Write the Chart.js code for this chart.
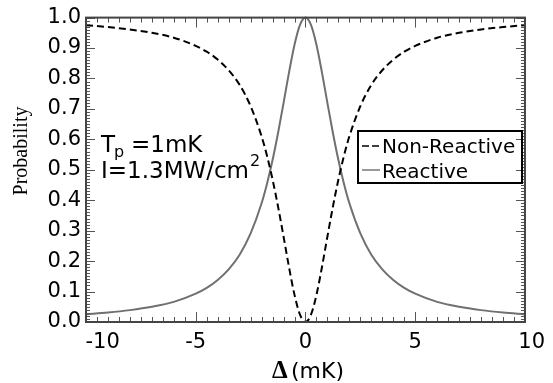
<!DOCTYPE html>
<html>
<head>
<meta charset="utf-8">
<script src="https://cdn.jsdelivr.net/npm/chart.js@4.4.1/dist/chart.umd.min.js"></script>
<style>
  body { margin: 0; background: #fff; }
</style>
</head>
<body>
<canvas id="probChart" width="553" height="383"></canvas>
<script>
// detuning (mK) and the two outcome probabilities
const delta = [-10, -9, -8, -7, -6, -5, -4.5, -4, -3.5, -3, -2.5, -2, -1.75, -1.5, -1.25, -1, -0.75, -0.5, -0.25, 0,
  0.25, 0.5, 0.75, 1, 1.25, 1.5, 1.75, 2, 2.5, 3, 3.5, 4, 4.5, 5, 6, 7, 8, 9, 10];
const reactive = [0.025, 0.031, 0.039, 0.050, 0.066, 0.093, 0.112, 0.138, 0.173, 0.221, 0.291, 0.390, 0.455, 0.532, 0.621, 0.719, 0.820, 0.911, 0.976, 1.000,
  0.976, 0.911, 0.820, 0.719, 0.621, 0.532, 0.455, 0.390, 0.291, 0.221, 0.173, 0.138, 0.112, 0.093, 0.066, 0.050, 0.039, 0.031, 0.025];
const nonReactive = [0.975, 0.969, 0.961, 0.950, 0.934, 0.907, 0.888, 0.862, 0.827, 0.779, 0.709, 0.610, 0.545, 0.468, 0.379, 0.281, 0.180, 0.089, 0.024, 0.000,
  0.024, 0.089, 0.180, 0.281, 0.379, 0.468, 0.545, 0.610, 0.709, 0.779, 0.827, 0.862, 0.888, 0.907, 0.934, 0.950, 0.961, 0.969, 0.975];
const xTicks = [-10, -5, 0, 5, 10];
const seriesNames = ['Non-Reactive', 'Reactive'];

const toPoints = ys => ys.map((y, i) => ({ x: delta[i], y }));

// boxed frame with inward ticks on all four sides
const frameTicks = {
  id: 'frameTicks',
  afterDatasetsDraw(chart) {
    const { ctx, chartArea: a, scales: { x, y } } = chart;
    ctx.save();
    ctx.strokeStyle = '#555';
    ctx.lineWidth = 1;
    ctx.beginPath();
    for (let i = 0; i <= 40; i++) {
      const px = Math.round(x.getPixelForValue(-10 + i * 0.5)) + 0.5;
      const len = i % 10 === 0 ? 10 : 5;
      ctx.moveTo(px, a.bottom); ctx.lineTo(px, a.bottom - len);
      ctx.moveTo(px, a.top); ctx.lineTo(px, a.top + len);
    }
    for (let i = 0; i <= 100; i++) {
      const py = Math.round(y.getPixelForValue(i / 100)) + 0.5;
      const len = i % 10 === 0 ? 9 : 4;
      ctx.moveTo(a.left, py); ctx.lineTo(a.left + len, py);
      ctx.moveTo(a.right, py); ctx.lineTo(a.right - len, py);
    }
    ctx.stroke();
    ctx.strokeStyle = '#444';
    ctx.lineWidth = 2;
    ctx.strokeRect(a.left, a.top, a.right - a.left, a.bottom - a.top);
    ctx.restore();
  },
  afterDraw(chart) {
    const { ctx } = chart;
    ctx.save();
    ctx.fillStyle = '#000';
    ctx.textBaseline = 'alphabetic';

    // y title
    ctx.save();
    ctx.translate(27, 151);
    ctx.rotate(-Math.PI / 2);
    ctx.font = '20px "Liberation Serif"';
    ctx.textAlign = 'center';
    ctx.fillText('Probability', 0, 0);
    ctx.restore();

    // x title
    ctx.textAlign = 'left';
    ctx.font = 'bold 25px "Liberation Serif"';
    ctx.fillText('Δ', 272, 378);
    ctx.font = '22px "DejaVu Sans"';
    ctx.fillText('(mK)', 291, 378);

    // conditions
    ctx.font = '23px "DejaVu Sans"';
    ctx.fillText('T', 101, 152);
    ctx.font = '16px "DejaVu Sans"';
    ctx.fillText('p', 114, 157);
    ctx.font = '23px "DejaVu Sans"';
    ctx.fillText('=1mK', 131, 152);
    ctx.fillText('I=1.3MW/cm', 101, 178);
    const w = ctx.measureText('I=1.3MW/cm').width;
    ctx.font = '16px "DejaVu Sans"';
    ctx.fillText('2', 101 + w + 1, 166);

    // legend box
    ctx.lineWidth = 2;
    ctx.strokeStyle = '#000';
    ctx.strokeRect(358, 131, 164, 52);
    ctx.lineWidth = 1.5;
    ctx.setLineDash([7, 3]);
    ctx.beginPath(); ctx.moveTo(362, 146); ctx.lineTo(380, 146); ctx.stroke();
    ctx.setLineDash([]);
    ctx.strokeStyle = '#777';
    ctx.beginPath(); ctx.moveTo(362, 170); ctx.lineTo(380, 170); ctx.stroke();
    ctx.font = '20px "DejaVu Sans"';
    ctx.fillText(seriesNames[0], 382, 153);
    ctx.fillText(seriesNames[1], 382, 178);
    ctx.restore();
  }
};

new Chart(document.getElementById('probChart'), {
  type: 'line',
  data: {
    datasets: [
      {
        label: seriesNames[0],
        data: toPoints(nonReactive),
        borderColor: '#000',
        borderDash: [7, 4],
        borderWidth: 2,
        pointRadius: 0,
        cubicInterpolationMode: 'monotone',
        clip: 4
      },
      {
        label: seriesNames[1],
        data: toPoints(reactive),
        borderColor: '#707070',
        borderWidth: 2,
        pointRadius: 0,
        cubicInterpolationMode: 'monotone',
        clip: 4
      }
    ]
  },
  options: {
    responsive: false,
    animation: false,
    layout: { padding: { left: 0, top: 12, right: 21, bottom: 0 } },
    plugins: { legend: { display: false }, tooltip: { enabled: false } },
    scales: {
      x: {
        type: 'linear',
        min: -10,
        max: 10,
        afterBuildTicks: s => { s.ticks = xTicks.map(v => ({ value: v })); },
        afterFit: s => { s.height = 61; },
        grid: { display: false, drawTicks: false },
        border: { display: false },
        ticks: {
          padding: 8,
          maxRotation: 0,
          autoSkip: false,
          color: '#000',
          font: { family: 'DejaVu Sans', size: 21 },
          // edge labels sit a little inward of their ticks
          callback: v => v === -10 ? '     -10' : v === 10 ? '  10' : String(v)
        }
      },
      y: {
        min: 0,
        max: 1,
        afterFit: s => { s.width = 86; },
        grid: { display: false, drawTicks: false },
        border: { display: false },
        ticks: {
          stepSize: 0.1,
          padding: 5,
          color: '#000',
          font: { family: 'DejaVu Sans', size: 21 },
          callback: v => v.toFixed(1)
        }
      }
    }
  },
  plugins: [frameTicks]
});
</script>
</body>
</html>
